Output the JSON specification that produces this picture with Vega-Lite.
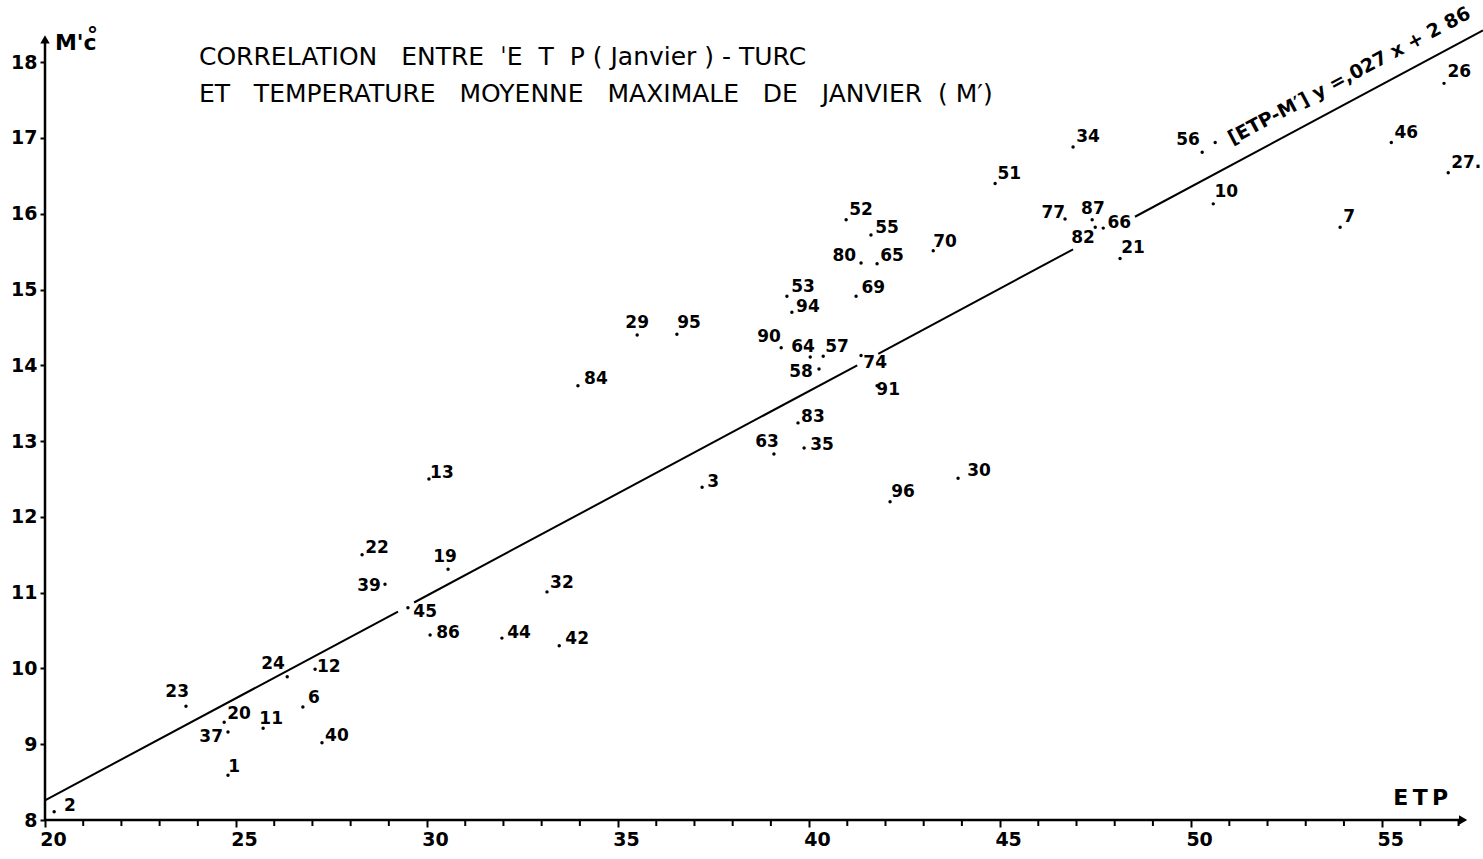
{
  "$schema": "https://vega.github.io/schema/vega-lite/v6.json",
  "width": 1438,
  "height": 820,
  "autosize": {"type": "none"},
  "padding": {"left": 45, "top": 0, "right": 0, "bottom": 39},
  "background": "white",
  "config": {
    "view": {"stroke": null},
    "font": "DejaVu Sans",
    "axis": {"grid": false, "domain": false, "tickColor": "black", "tickWidth": 2, "labelColor": "black", "labelFont": "DejaVu Sans", "labelFontSize": 19, "labelFontWeight": "bold", "labelOverlap": false, "labelFlush": false, "title": null}
  },
  "datasets": {
    "axes": [
      {"axis": "x", "x": 20, "x2": 57.15, "y": 8, "y2": 8},
      {"axis": "y", "x": 20, "x2": 20, "y": 8, "y2": 18.3}
    ],
    "arrows": [
      {"dir": "right", "x": 57.12, "y": 8},
      {"dir": "up", "x": 20, "y": 18.3}
    ],
    "minor": [
      {"x": 21}, {"x": 22}, {"x": 23}, {"x": 24}, {"x": 26}, {"x": 27}, {"x": 28}, {"x": 29},
      {"x": 31}, {"x": 32}, {"x": 33}, {"x": 34}, {"x": 36}, {"x": 37}, {"x": 38}, {"x": 39},
      {"x": 41}, {"x": 42}, {"x": 43}, {"x": 44}, {"x": 46}, {"x": 47}, {"x": 48}, {"x": 49},
      {"x": 51}, {"x": 52}, {"x": 53}, {"x": 54}, {"x": 56}, {"x": 57}
    ],
    "fit": [
      {"seg": 1, "x": 20, "y": 8.26},
      {"seg": 1, "x": 29.24, "y": 10.75},
      {"seg": 2, "x": 29.66, "y": 10.87},
      {"seg": 2, "x": 41.26, "y": 14.0},
      {"seg": 3, "x": 41.81, "y": 14.15},
      {"seg": 3, "x": 46.91, "y": 15.53},
      {"seg": 4, "x": 48.53, "y": 15.96},
      {"seg": 4, "x": 57.64, "y": 18.42}
    ],
    "points": [
      {"id": "2", "etp": 20.24, "m": 8.11, "lx": 20.65, "ly": 8.18},
      {"id": "23", "etp": 23.69, "m": 9.5, "lx": 23.46, "ly": 9.69},
      {"id": "20", "etp": 24.69, "m": 9.29, "lx": 25.08, "ly": 9.4},
      {"id": "37", "etp": 24.79, "m": 9.16, "lx": 24.35, "ly": 9.09},
      {"id": "1", "etp": 24.79, "m": 8.59, "lx": 24.95, "ly": 8.7},
      {"id": "11", "etp": 25.71, "m": 9.21, "lx": 25.92, "ly": 9.33},
      {"id": "24", "etp": 26.34, "m": 9.89, "lx": 25.97, "ly": 10.06},
      {"id": "12", "etp": 27.07, "m": 9.99, "lx": 27.43, "ly": 10.02},
      {"id": "6", "etp": 26.75, "m": 9.49, "lx": 27.04, "ly": 9.61},
      {"id": "40", "etp": 27.25, "m": 9.02, "lx": 27.64, "ly": 9.11},
      {"id": "45", "etp": 29.5, "m": 10.8, "lx": 29.95, "ly": 10.74},
      {"id": "86", "etp": 30.08, "m": 10.44, "lx": 30.55, "ly": 10.47},
      {"id": "13", "etp": 30.05, "m": 12.5, "lx": 30.39, "ly": 12.58},
      {"id": "22", "etp": 28.3, "m": 11.5, "lx": 28.69, "ly": 11.59},
      {"id": "39", "etp": 28.9, "m": 11.11, "lx": 28.48, "ly": 11.09},
      {"id": "19", "etp": 30.55, "m": 11.31, "lx": 30.47, "ly": 11.47},
      {"id": "44", "etp": 31.96, "m": 10.4, "lx": 32.41, "ly": 10.47},
      {"id": "42", "etp": 33.46, "m": 10.3, "lx": 33.93, "ly": 10.39},
      {"id": "32", "etp": 33.14, "m": 11.01, "lx": 33.53, "ly": 11.13},
      {"id": "84", "etp": 33.95, "m": 13.73, "lx": 34.42, "ly": 13.82},
      {"id": "29", "etp": 35.5, "m": 14.4, "lx": 35.5, "ly": 14.56},
      {"id": "95", "etp": 36.54, "m": 14.41, "lx": 36.86, "ly": 14.56},
      {"id": "3", "etp": 37.2, "m": 12.39, "lx": 37.49, "ly": 12.46},
      {"id": "90", "etp": 39.27, "m": 14.23, "lx": 38.95, "ly": 14.37},
      {"id": "64", "etp": 40.03, "m": 14.11, "lx": 39.84, "ly": 14.24},
      {"id": "57", "etp": 40.37, "m": 14.12, "lx": 40.73, "ly": 14.24},
      {"id": "58", "etp": 40.26, "m": 13.95, "lx": 39.79, "ly": 13.91},
      {"id": "94", "etp": 39.55, "m": 14.7, "lx": 39.97, "ly": 14.77},
      {"id": "83", "etp": 39.71, "m": 13.24, "lx": 40.1, "ly": 13.32},
      {"id": "63", "etp": 39.08, "m": 12.83, "lx": 38.9, "ly": 12.99},
      {"id": "35", "etp": 39.87, "m": 12.91, "lx": 40.34, "ly": 12.95},
      {"id": "74", "etp": 41.36, "m": 14.13, "lx": 41.73, "ly": 14.03},
      {"id": "52", "etp": 40.97, "m": 15.92, "lx": 41.36, "ly": 16.05},
      {"id": "55", "etp": 41.62, "m": 15.72, "lx": 42.04, "ly": 15.81},
      {"id": "80", "etp": 41.36, "m": 15.35, "lx": 40.92, "ly": 15.44},
      {"id": "65", "etp": 41.78, "m": 15.34, "lx": 42.17, "ly": 15.44},
      {"id": "70", "etp": 43.25, "m": 15.51, "lx": 43.56, "ly": 15.63},
      {"id": "53", "etp": 39.42, "m": 14.91, "lx": 39.84, "ly": 15.03},
      {"id": "69", "etp": 41.23, "m": 14.91, "lx": 41.68, "ly": 15.02},
      {"id": "91", "etp": 41.78, "m": 13.73, "lx": 42.07, "ly": 13.67},
      {"id": "96", "etp": 42.12, "m": 12.2, "lx": 42.46, "ly": 12.33},
      {"id": "30", "etp": 43.9, "m": 12.51, "lx": 44.45, "ly": 12.6},
      {"id": "51", "etp": 44.87, "m": 16.4, "lx": 45.24, "ly": 16.52},
      {"id": "34", "etp": 46.91, "m": 16.88, "lx": 47.3, "ly": 17.01},
      {"id": "77", "etp": 46.7, "m": 15.93, "lx": 46.39, "ly": 16.01},
      {"id": "87", "etp": 47.41, "m": 15.92, "lx": 47.43, "ly": 16.06},
      {"id": "82", "etp": 47.49, "m": 15.82, "lx": 47.17, "ly": 15.68},
      {"id": "66", "etp": 47.7, "m": 15.81, "lx": 48.12, "ly": 15.88},
      {"id": "21", "etp": 48.14, "m": 15.41, "lx": 48.48, "ly": 15.55},
      {"id": "56", "etp": 50.29, "m": 16.81, "lx": 49.92, "ly": 16.97},
      {"id": "", "etp": 50.63, "m": 16.94, "lx": 50.63, "ly": 16.94},
      {"id": "10", "etp": 50.58, "m": 16.13, "lx": 50.92, "ly": 16.28},
      {"id": "7", "etp": 53.9, "m": 15.82, "lx": 54.14, "ly": 15.96},
      {"id": "46", "etp": 55.24, "m": 16.94, "lx": 55.63, "ly": 17.06},
      {"id": "26", "etp": 56.62, "m": 17.72, "lx": 57.02, "ly": 17.87},
      {"id": "27.", "etp": 56.73, "m": 16.54, "lx": 57.2, "ly": 16.67}
    ],
    "notes": [
      {"text": "CORRELATION\u00a0\u00a0\u00a0ENTRE\u00a0\u00a0\u02c8E\u00a0\u00a0T\u00a0\u00a0P\u00a0(\u00a0Janvier\u00a0)\u00a0-\u00a0TURC", "x": 24.03, "y": 18.07},
      {"text": "ET\u00a0\u00a0\u00a0TEMPERATURE\u00a0\u00a0\u00a0MOYENNE\u00a0\u00a0\u00a0MAXIMALE\u00a0\u00a0\u00a0DE\u00a0\u00a0\u00a0JANVIER\u00a0\u00a0(\u00a0M\u2032)", "x": 24.03, "y": 17.58}
    ],
    "small": [
      {"text": "M'c", "x": 20.26, "y": 18.25},
      {"text": "\u00b0", "x": 21.1, "y": 18.36},
      {"text": "E\u2009T\u2009P", "x": 55.29, "y": 8.29}
    ],
    "equation": [
      {"text": "[ETP-M\u2032] y =,027 x + 2 86", "x": 54.14, "y": 17.82}
    ]
  },
  "layer": [
    {
      "data": {"name": "axes"},
      "mark": {"type": "rule", "color": "black", "strokeWidth": 2.5},
      "encoding": {
        "x": {"field": "x", "type": "quantitative", "scale": {"domain": [20, 57.64], "nice": false, "zero": false},
          "axis": {"values": [20, 25, 30, 35, 40, 45, 50, 55], "format": "d", "labelOverlap": false, "tickSize": 7, "labelPadding": 3, "labelOffset": 8}},
        "x2": {"field": "x2"},
        "y": {"field": "y", "type": "quantitative", "scale": {"domain": [8, 18.82], "nice": false, "zero": false},
          "axis": {"values": [8,9,10,11,12,13,14,15,16,17,18], "format": "d", "labelOverlap": false, "tickSize": 5, "labelPadding": 3}},
        "y2": {"field": "y2"}
      }
    },
    {
      "data": {"name": "minor"},
      "mark": {"type": "tick", "orient": "vertical", "color": "black", "size": 6, "thickness": 2, "yOffset": 3, "opacity": 1},
      "encoding": {
        "x": {"field": "x", "type": "quantitative"},
        "y": {"datum": 8, "type": "quantitative"}
      }
    },
    {
      "data": {"name": "arrows"},
      "mark": {"type": "point", "filled": true, "color": "black", "size": 90, "opacity": 1},
      "encoding": {
        "x": {"field": "x", "type": "quantitative"},
        "y": {"field": "y", "type": "quantitative"},
        "shape": {"field": "dir", "type": "nominal", "scale": {"domain": ["right", "up"], "range": ["triangle-right", "triangle-up"]}, "legend": null}
      }
    },
    {
      "data": {"name": "fit"},
      "mark": {"type": "line", "color": "black", "strokeWidth": 2},
      "encoding": {
        "x": {"field": "x", "type": "quantitative"},
        "y": {"field": "y", "type": "quantitative"},
        "detail": {"field": "seg", "type": "nominal"}
      }
    },
    {
      "data": {"name": "points"},
      "mark": {"type": "circle", "color": "black", "size": 12, "opacity": 1},
      "encoding": {
        "x": {"field": "etp", "type": "quantitative"},
        "y": {"field": "m", "type": "quantitative"}
      }
    },
    {
      "data": {"name": "points"},
      "mark": {"type": "text", "color": "black", "fontSize": 17, "fontWeight": "bold", "font": "DejaVu Sans", "align": "center", "baseline": "middle"},
      "encoding": {
        "x": {"field": "lx", "type": "quantitative"},
        "y": {"field": "ly", "type": "quantitative"},
        "text": {"field": "id"}
      }
    },
    {
      "data": {"name": "notes"},
      "mark": {"type": "text", "color": "black", "fontSize": 25, "font": "DejaVu Sans", "align": "left", "baseline": "middle"},
      "encoding": {
        "x": {"field": "x", "type": "quantitative"},
        "y": {"field": "y", "type": "quantitative"},
        "text": {"field": "text"}
      }
    },
    {
      "data": {"name": "small"},
      "mark": {"type": "text", "color": "black", "fontSize": 22, "fontWeight": "bold", "font": "DejaVu Sans", "align": "left", "baseline": "middle"},
      "encoding": {
        "x": {"field": "x", "type": "quantitative"},
        "y": {"field": "y", "type": "quantitative"},
        "text": {"field": "text"}
      }
    },
    {
      "data": {"name": "equation"},
      "mark": {"type": "text", "color": "black", "fontSize": 19, "fontWeight": "bold", "font": "DejaVu Sans", "align": "center", "baseline": "middle", "angle": 332},
      "encoding": {
        "x": {"field": "x", "type": "quantitative"},
        "y": {"field": "y", "type": "quantitative"},
        "text": {"field": "text"}
      }
    }
  ]
}
